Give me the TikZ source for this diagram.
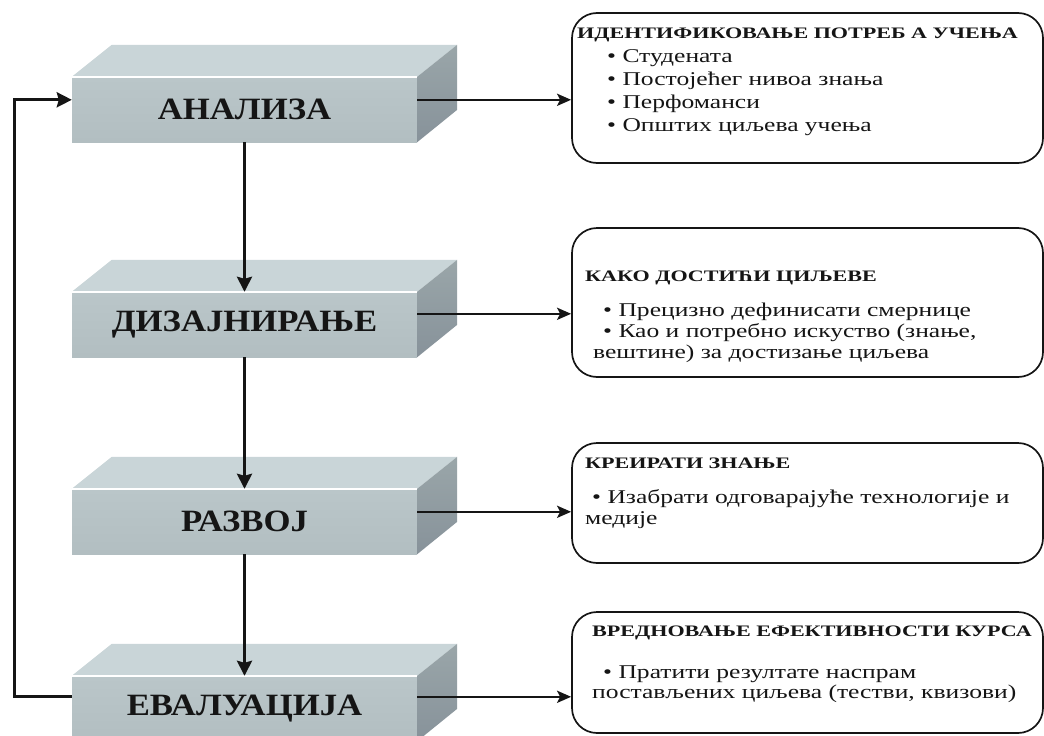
\documentclass[tikz,border=0pt]{standalone}
\usepackage{fontspec}
\setmainfont{Liberation Serif}
\newfontfamily\stagefont[FakeStretch=1.12]{Liberation Serif}
\newfontfamily\notefont[FakeStretch=1.38]{Liberation Serif}
\newfontfamily\itemfont[FakeStretch=1.31]{Liberation Serif}
\usetikzlibrary{arrows.meta,calc}

\definecolor{frontc}{HTML}{B2BEC1}
\definecolor{frontlt}{HTML}{BAC6C9}
\definecolor{topc}{HTML}{C9D5D8}
\definecolor{sidetop}{HTML}{9AA6A9}
\definecolor{sidebot}{HTML}{87929A}
\definecolor{ink}{HTML}{151515}

\tikzset{
  stage/.style={minimum width=345pt, minimum height=65pt, inner sep=0pt,
    top color=frontlt, bottom color=frontc, text=ink,
    font=\stagefont\bfseries\fontsize{31}{34}\selectfont},
  note/.style={draw=ink, line width=1.7pt, rounded corners=25pt, inner sep=0pt,
    fill=white},
  ttl/.style={anchor=base west, inner sep=0pt, text=ink,
    font=\notefont\bfseries\fontsize{16}{19}\selectfont},
  itm/.style={anchor=base west, inner sep=0pt, text=ink,
    font=\itemfont\fontsize{19.5}{23}\selectfont},
  conn/.style={draw=ink, line width=3pt,
    -{Stealth[length=15pt,width=15pt,inset=2pt]}},
  side/.style={draw=ink, line width=2.6pt,
    -{Stealth[length=14pt,width=12pt,inset=3pt]}},
}

\begin{document}
\begin{tikzpicture}[x=1pt,y=-1pt]
  \useasboundingbox (0,0) rectangle (1044,736);
  \clip (0,0) rectangle (1044,736);
  \fill[white] (0,0) rectangle (1044,736);

  % phase blocks (front faces)
  \node[stage] (an) at (244.5,109.5) {АНАЛИЗА};
  \node[stage] (dz) at (244.5,324.5) {ДИЗАЈНИРАЊЕ};
  \node[stage] (rz) at (244.5,521.5) {РАЗВОЈ};
  \node[stage] (ev) at (244.5,708.5) {ЕВАЛУАЦИЈА};

  % top and side faces of each block
  \foreach \n in {an,dz,rz,ev}{
    \fill[topc] (\n.north west) -- ++(40,-32) -- ($(\n.north east)+(40,-32)$)
      -- (\n.north east) -- cycle;
    \shade[top color=sidetop, bottom color=sidebot] (\n.north east) -- ++(40,-32)
      -- ++(0,65) -- (\n.south east) -- cycle;
    \draw[white, line width=1.6pt] (\n.north west) -- (\n.north east);
  }

  % description panels
  \node[note, minimum width=471pt, minimum height=150pt] (pa) at (807.5,88) {};
  \node[note, minimum width=471pt, minimum height=149pt] (pb) at (807.5,302.5) {};
  \node[note, minimum width=471pt, minimum height=120pt] (pc) at (807.5,503) {};
  \node[note, minimum width=471pt, minimum height=121pt] (pd) at (807.5,672.5) {};

  % panel texts
  \node[ttl] (a0) at (577,38) {ИДЕНТИФИКОВАЊЕ ПОТРЕБ А УЧЕЊА};
  \node[itm] (a1) at (607,62) {• Студената};
  \node[itm] (a2) at (607,85) {• Постојећег нивоа знања};
  \node[itm] (a3) at (607,108) {• Перфоманси};
  \node[itm] (a4) at (607,131) {• Општих циљева учења};

  \node[ttl] (b0) at (585,281) {КАКО ДОСТИЋИ ЦИЉЕВЕ};
  \node[itm] (b1) at (603,316) {• Прецизно дефинисати смернице};
  \node[itm] (b2) at (603,337) {• Као и потребно искуство (знање,};
  \node[itm] (b3) at (593,358) {вештине) за достизање циљева};

  \node[ttl] (c0) at (585,468) {КРЕИРАТИ ЗНАЊЕ};
  \node[itm] (c1) at (592,503) {• Изабрати одговарајуће технологије и};
  \node[itm] (c2) at (585,524) {медије};

  \node[ttl] (d0) at (592,636) {ВРЕДНОВАЊЕ ЕФЕКТИВНОСТИ КУРСА};
  \node[itm] (d1) at (603,678) {• Пратити резултате наспрам};
  \node[itm] (d2) at (592,698) {постављених циљева (тестви, квизови)};

  % sequence between phases
  \draw[conn] (an.south) -- (dz.north);
  \draw[conn] (dz.south) -- (rz.north);
  \draw[conn] (rz.south) -- (ev.north);

  % links from phases to their panels
  \draw[side] ($(an.north east)+(0,23)$) coordinate (s1) -- (s1 -| pa.west);
  \draw[side] ($(dz.north east)+(0,22)$) coordinate (s2) -- (s2 -| pb.west);
  \draw[side] ($(rz.north east)+(0,23)$) coordinate (s3) -- (s3 -| pc.west);
  \draw[side] ($(ev.north east)+(0,21)$) coordinate (s4) -- (s4 -| pd.west);

  % feedback loop from evaluation back to analysis
  \coordinate (fb) at ($(ev.north west)+(0,21)$);
  \coordinate (fa) at ($(an.north west)+(0,23)$);
  \draw[conn] (fb) -- (fb -| 14,0) -- (fa -| 14,0) -- (fa);
\end{tikzpicture}
\end{document}
